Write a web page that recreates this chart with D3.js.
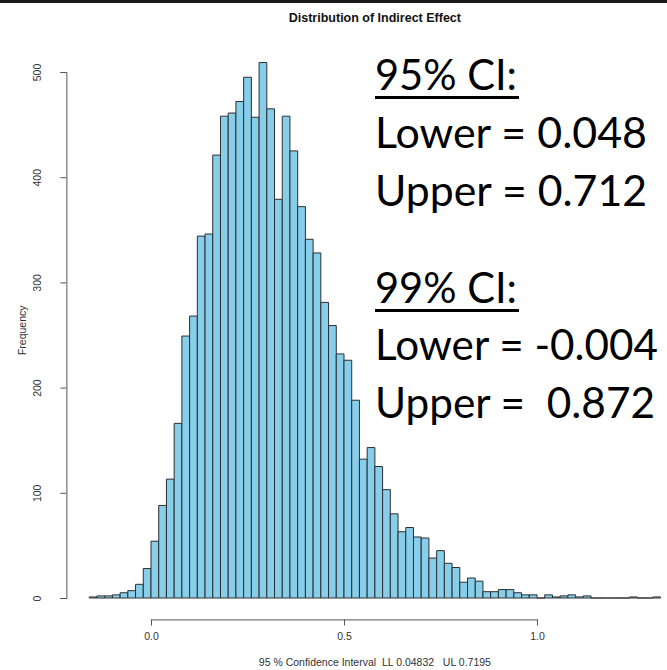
<!DOCTYPE html>
<html>
<head>
<meta charset="utf-8">
<script src="https://cdn.jsdelivr.net/npm/d3@7"></script>
<style>
  body { margin: 0; background: #fff; }
  svg { display: block; }
</style>
</head>
<body>
<script>
// DATA
// histogram bins: left edge of each bin (width 0.02) and its count
var binWidth = 0.02;
var binStarts = [
  -0.16, -0.14, -0.12, -0.10, -0.08, -0.06, -0.04, -0.02,
  0.00, 0.02, 0.04, 0.06, 0.08, 0.10, 0.12, 0.14, 0.16, 0.18,
  0.20, 0.22, 0.24, 0.26, 0.28, 0.30, 0.32, 0.34, 0.36, 0.38,
  0.40, 0.42, 0.44, 0.46, 0.48, 0.50, 0.52, 0.54, 0.56, 0.58,
  0.60, 0.62, 0.64, 0.66, 0.68, 0.70, 0.72, 0.74, 0.76, 0.78,
  0.80, 0.82, 0.84, 0.86, 0.88, 0.90, 0.92, 0.94, 0.96, 0.98,
  1.00, 1.02, 1.04, 1.06, 1.08, 1.10, 1.12, 1.14, 1.16, 1.18,
  1.20, 1.22, 1.24, 1.26, 1.28, 1.30
];
var counts = [
  1, 2, 2, 3, 5, 7, 13, 28,
  54, 88, 113, 166, 249, 268, 344, 346, 421, 458,
  461, 472, 495, 457, 509, 465, 379, 458, 425, 372,
  341, 328, 281, 259, 232, 226, 188, 132, 143, 125,
  103, 80, 63, 67, 58, 57, 38, 45, 33, 29,
  15, 19, 16, 6, 6, 8, 8, 5, 3, 3,
  0, 3, 1, 2, 3, 1, 2, 0, 0, 0,
  0, 0, 1, 0, 0, 1
];
var xTicks = [0, 0.5, 1.0];
var yTicks = [0, 100, 200, 300, 400, 500];

var title = "Distribution of Indirect Effect";
var xTitle = "95 % Confidence Interval  LL 0.04832   UL 0.7195";
var yTitle = "Frequency";

// overlay text (typed on top of the chart)
var ciHeads = ["95% CI:", "99% CI:"];
var ciLines = ["Lower = 0.048", "Upper = 0.712", "Lower = -0.004", "Upper =  0.872"];

// D3
var W = 667, H = 670;
var svg = d3.select("body").append("svg")
    .attr("width", W)
    .attr("height", H);

var x = d3.scaleLinear().domain([0, 1]).range([151, 537]);
var y = d3.scaleLinear().domain([0, 500]).range([598, 72]);

// plot region like R: data range padded by 4%
var xLo = d3.min(binStarts), xHi = d3.max(binStarts) + binWidth;
var xPad = (xHi - xLo) * 0.04;
var yPad = d3.max(counts) * 0.04;
var plotLeft = x(xLo - xPad);
var plotBottom = y(-yPad);
var plotTop = y(d3.max(counts) + yPad);
var plotMidX = x((xLo + xHi) / 2);

var rFont = "'Liberation Sans', Arial, sans-serif";

// top border line
svg.append("rect")
    .attr("x", 0).attr("y", 0)
    .attr("width", W).attr("height", 3)
    .attr("fill", "#1a1a1a");

// bars (paths so that empty bins still show as a line)
var bins = binStarts.map(function(b, i) { return {x0: b, x1: b + binWidth, n: counts[i]}; });
svg.append("g").selectAll("path").data(bins)
    .enter()
    .append("path")
    .attr("d", function(d) {
        var p = d3.path();
        p.moveTo(x(d.x0), y(0));
        p.lineTo(x(d.x0), y(d.n));
        p.lineTo(x(d.x1), y(d.n));
        p.lineTo(x(d.x1), y(0));
        p.closePath();
        return p.toString();
    })
    .attr("fill", "#87ceeb")
    .attr("stroke", "#2e2e2e")
    .attr("stroke-width", 1);

// axes
var axisColor = "#555";
var gx = svg.append("g")
    .attr("transform", "translate(0," + plotBottom + ")")
    .call(d3.axisBottom(x).tickValues(xTicks).tickFormat(d3.format(".1f"))
        .tickSizeOuter(0).tickSize(6).tickPadding(7));
var gy = svg.append("g")
    .attr("transform", "translate(" + plotLeft + ",0)")
    .call(d3.axisLeft(y).tickValues(yTicks).tickSizeOuter(0).tickSize(6));

[gx, gy].forEach(function(g) {
    g.select(".domain").attr("stroke", axisColor);
    g.selectAll(".tick line").attr("stroke", axisColor);
    g.selectAll("text")
        .attr("fill", "#333")
        .style("font-family", rFont)
        .style("font-size", "10.5px");
});
gy.selectAll(".tick text")
    .attr("transform", "rotate(-90)")
    .attr("x", 0)
    .attr("y", -25)
    .attr("dy", 0)
    .attr("text-anchor", "middle");

// titles
svg.append("text")
    .attr("x", plotMidX).attr("y", 21.5)
    .attr("text-anchor", "middle")
    .style("font-family", rFont)
    .style("font-size", "12.5px")
    .style("font-weight", "bold")
    .attr("fill", "#111")
    .text(title);

svg.append("text")
    .attr("x", plotMidX).attr("y", 666)
    .attr("text-anchor", "middle")
    .attr("xml:space", "preserve")
    .style("font-family", rFont)
    .style("font-size", "10.5px")
    .style("white-space", "pre")
    .attr("fill", "#333")
    .text(xTitle);

svg.append("text")
    .attr("transform", "translate(26," + ((plotTop + plotBottom) / 2) + ") rotate(-90)")
    .attr("text-anchor", "middle")
    .style("font-family", rFont)
    .style("font-size", "10.5px")
    .attr("fill", "#333")
    .text(yTitle);

// CI overlay text
var ciX = 375;
var ciFont = "Lato, 'Open Sans', sans-serif";
var heads = [{t: ciHeads[0], y: 90, w: 142}, {t: ciHeads[1], y: 303, w: 142}];
var lines = [
    {t: ciLines[0], y: 148, w: 272},
    {t: ciLines[1], y: 205.5, w: 272},
    {t: ciLines[2], y: 360, w: 283},
    {t: ciLines[3], y: 417.5, w: 280}
];
var ov = svg.append("g");
ov.selectAll("text").data(heads.concat(lines))
    .enter()
    .append("text")
    .attr("x", ciX)
    .attr("y", function(d) { return d.y; })
    .attr("textLength", function(d) { return d.w; })
    .attr("lengthAdjust", "spacingAndGlyphs")
    .attr("xml:space", "preserve")
    .style("font-family", ciFont)
    .style("font-size", "42px")
    .style("white-space", "pre")
    .attr("fill", "#000")
    .text(function(d) { return d.t; });
ov.selectAll("rect").data(heads)
    .enter()
    .append("rect")
    .attr("x", ciX)
    .attr("y", function(d) { return d.y + 6; })
    .attr("width", 144)
    .attr("height", 3)
    .attr("fill", "#000");
</script>
</body>
</html>
